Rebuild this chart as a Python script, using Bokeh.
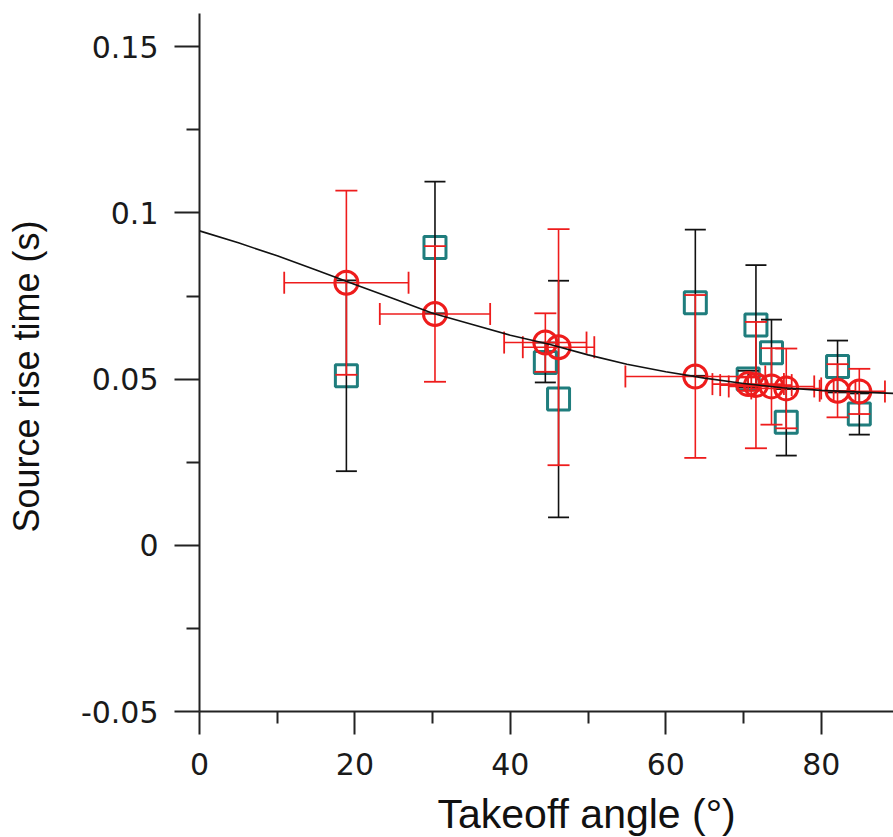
import numpy as np
from bokeh.plotting import figure
from bokeh.models import Range1d, FixedTicker, Title, LinearAxis
from bokeh.embed import file_html
from bokeh.resources import INLINE

# ---- data ----
angle = [18.9, 30.3, 44.5, 46.2, 63.8, 70.6, 71.6, 73.6, 75.5, 82.1, 84.9]
angle_err = [8.0, 7.1, 5.3, 4.6, 9.0, 4.6, 4.6, 5.5, 4.5, 2.3, 3.3]
model_rise = [0.0790, 0.0696, 0.0610, 0.0596, 0.0508, 0.0485, 0.0482, 0.0478, 0.0472, 0.0465, 0.0463]
model_rise_err = [0.0277, 0.0204, 0.0088, 0.0355, 0.0245, 0.0020, 0.0190, 0.0115, 0.0120, 0.0080, 0.0068]
obs_rise = [0.0510, 0.0896, 0.0550, 0.0440, 0.0730, 0.0500, 0.0663, 0.0579, 0.0370, 0.0538, 0.0395]
obs_rise_err = [0.0287, 0.0198, 0.0060, 0.0356, 0.0220, 0.0025, 0.0180, 0.0100, 0.0100, 0.0078, 0.0062]

fit_angle = [0, 5, 10, 15, 20, 25, 30, 35, 40, 45, 50, 55, 60, 65, 70, 75, 80, 85, 89.3]
fit_rise = [0.0946, 0.0910, 0.0871, 0.0828, 0.0785, 0.0742, 0.0698, 0.0665, 0.0632, 0.0605,
            0.0573, 0.0545, 0.0522, 0.0503, 0.0487, 0.0474, 0.0466, 0.0461, 0.0457]

x_ticks = [0, 20, 40, 60, 80]
x_minor = [10, 30, 50, 70, 90]
y_ticks = [-0.05, 0, 0.05, 0.1, 0.15]
y_minor = [-0.025, 0.025, 0.075, 0.125]
y_tick_text = ["-0.05", "0", "0.05", "0.1", "0.15"]

x_title = "Takeoff angle (°)"
y_title = "Source rise time (s)"

RED = "#ee1c1c"
TEAL = "#1f7d7d"
BLACK = "#111111"

p = figure(width=893, height=837, output_backend="svg", toolbar_location=None,
           x_range=Range1d(0, 89.3), y_range=Range1d(-0.05, 0.16),
           min_border_left=199, min_border_right=0, min_border_top=13, min_border_bottom=125)
p.outline_line_color = None
p.grid.visible = False
p.background_fill_color = "white"

for ax in (p.xaxis[0], p.yaxis[0]):
    ax.axis_line_color = "#222222"
    ax.axis_line_width = 2
    ax.major_tick_line_color = "#222222"
    ax.major_tick_line_width = 2
    ax.minor_tick_line_color = "#222222"
    ax.minor_tick_line_width = 2
    ax.major_tick_in = 0
    ax.minor_tick_in = 0
    ax.major_label_text_font = "DejaVu Sans"
    ax.major_label_text_font_size = "30px"
    ax.major_label_text_color = "#1a1a1a"

p.xaxis.ticker = FixedTicker(ticks=x_ticks, minor_ticks=x_minor)
p.xaxis.major_tick_out = 23
p.xaxis.minor_tick_out = 12
p.xaxis.major_label_standoff = 18

p.yaxis.ticker = FixedTicker(ticks=y_ticks, minor_ticks=y_minor)
p.yaxis.major_tick_out = 25
p.yaxis.minor_tick_out = 13
p.yaxis.major_label_standoff = 16
p.yaxis.major_label_overrides = {t: s for t, s in zip(y_ticks, y_tick_text)}


def spacer(px, at):
    # an invisible axis used only to reserve space between the tick labels and the title
    return LinearAxis(ticker=FixedTicker(ticks=[at], minor_ticks=[]), major_tick_out=px,
                      major_tick_in=0, minor_tick_out=0, minor_tick_in=0,
                      major_label_standoff=0, major_label_overrides={at: ""},
                      major_label_text_alpha=0, axis_line_color=None,
                      major_tick_line_color="white", major_tick_line_width=1,
                      minor_tick_line_color=None)


# ---- error bars and markers ----
ax_ = np.array(angle)
axe = np.array(angle_err)
mr = np.array(model_rise)
mre = np.array(model_rise_err)
orr = np.array(obs_rise)
ore = np.array(obs_rise_err)

# observed: teal squares with black vertical error bars
p.scatter(ax_, orr, marker="square", size=22, fill_color=None, line_color=TEAL, line_width=3)
p.segment(ax_, orr - ore, ax_, orr + ore, line_color=BLACK, line_width=1.6)
p.scatter(np.concatenate([ax_, ax_]), np.concatenate([orr - ore, orr + ore]),
          marker="dash", size=21, line_color=BLACK, line_width=1.8)

# model: red circles with red x and y error bars
p.segment(ax_, mr - mre, ax_, mr + mre, line_color=RED, line_width=1.6)
p.scatter(np.concatenate([ax_, ax_]), np.concatenate([mr - mre, mr + mre]),
          marker="dash", size=22, line_color=RED, line_width=1.8)
p.segment(ax_ - axe, mr, ax_ + axe, mr, line_color=RED, line_width=1.6)
p.scatter(np.concatenate([ax_ - axe, ax_ + axe]), np.concatenate([mr, mr]),
          marker="dash", angle=np.pi / 2, size=22, line_color=RED, line_width=1.8)
p.scatter(ax_, mr, marker="circle", size=23, fill_color=None, line_color=RED, line_width=3)

# fitted curve
p.line(fit_angle, fit_rise, line_color=BLACK, line_width=1.6)

# axis titles (side titles so they can sit off-centre like the reference)
p.add_layout(spacer(10, 45), "below")
p.add_layout(Title(text=x_title, align="left", offset=238, standoff=2,
                   text_font="Liberation Sans", text_font_size="41px",
                   text_font_style="normal", text_color="#111111"), "below")
p.add_layout(spacer(24, 0.0), "left")
p.add_layout(Title(text=y_title, align="left", offset=179, standoff=10, vertical_align="top",
                   text_font="Liberation Sans", text_font_size="36px",
                   text_font_style="normal", text_color="#111111"), "left")

open("out.html", "w").write(file_html(p, INLINE))
